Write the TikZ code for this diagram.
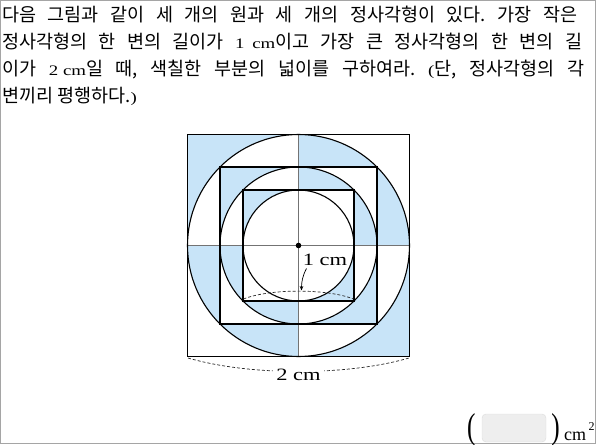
\documentclass[tikz,border=0pt]{standalone}
\usepackage{fontspec}
\usepackage{graphicx}
\setmainfont{Liberation Serif}
\newfontfamily\kr{Noto Sans CJK KR}
\newfontfamily\wid[FakeStretch=1.3]{Liberation Serif}
\usetikzlibrary{arrows.meta}
\definecolor{shadeblue}{RGB}{200,228,248}
\definecolor{axisgray}{RGB}{115,115,115}
\definecolor{framegray}{RGB}{165,165,165}
\definecolor{boxfill}{RGB}{238,238,238}
\definecolor{boxline}{RGB}{220,220,220}
\frenchspacing
\newcommand{\krtext}{\kr\fontsize{18.5}{22}\selectfont}
\newcommand{\lat}[1]{\mbox{\wid\fontsize{14.5}{18}\selectfont #1}}
\tikzset{
  shapeline/.style={draw=black, line width=1.1pt},
  axisline/.style={draw=axisgray, line width=1pt},
  dimline/.style={draw=black!85, line width=0.7pt, dash pattern=on 3pt off 2pt},
  bodyline/.style={anchor=base west, inner sep=0pt},
  figlabel/.style={anchor=base, inner sep=1.5pt, font=\wid\fontsize{17.3}{20}\selectfont},
}
\begin{document}
\begin{tikzpicture}[x=1pt,y=-1pt]
\useasboundingbox (0,0) rectangle (598,445);
\draw[framegray, line width=1pt] (0.5,0.5) rectangle (595.5,443.8);

% problem text
\node[bodyline] (l1) at (2,21) {\makebox[575pt][s]{\krtext 다음 그림과 같이 세 개의 원과 세 개의 정사각형이 있다. 가장 작은}};
\node[bodyline] (l2) at (2,48) {\makebox[580pt][s]{\krtext 정사각형의 한 변의 길이가 \lat{1\hspace{3pt} cm}이고 가장 큰 정사각형의 한 변의 길}};
\node[bodyline] (l3) at (2,75) {\makebox[582pt][s]{\krtext 이가 \lat{2 cm}일 때, 색칠한 부분의 넓이를 구하여라. \lat{(}단, 정사각형의 각}};
\node[bodyline] (l4) at (2,102) {\krtext 변끼리 평행하다.\lat{)}};

% figure
\coordinate (C) at (298.5,245.5);
\begin{scope}
  \clip (187.5,134.5) rectangle (298.5,245.5) (298.5,245.5) rectangle (409.5,356.5);
  \fill[shadeblue, even odd rule] (187.5,134.5) rectangle (409.5,356.5)
    (C) circle (111pt) (220,167) rectangle (377,324)
    (C) circle (78.5pt) (243,190) rectangle (354,301) (C) circle (55.5pt);
\end{scope}
\begin{scope}
  \clip (298.5,134.5) rectangle (409.5,245.5) (187.5,245.5) rectangle (298.5,356.5);
  \fill[shadeblue, even odd rule]
    (C) circle (111pt) (220,167) rectangle (377,324)
    (C) circle (78.5pt) (243,190) rectangle (354,301);
\end{scope}

\coordinate (W) at (187.5,245.5);
\coordinate (E) at (409.5,245.5);
\coordinate (N) at (298.5,134.5);
\coordinate (S) at (298.5,356.5);
\draw[axisline] (W) -- (E);
\draw[axisline] (N) -- (S);

\draw[shapeline] (187.5,134.5) rectangle (409.5,356.5);
\draw[shapeline] (220,167) rectangle (377,324);
\draw[shapeline] (243,190) rectangle (354,301);
\draw[shapeline] (C) circle (111pt);
\draw[shapeline] (C) circle (78.5pt);
\draw[shapeline] (C) circle (55.5pt);
\fill[black] (C) circle (2.8pt);

% 1 cm marker
\coordinate (sL) at (243.5,299);
\coordinate (sR) at (353.5,299);
\draw[dimline] (sL) .. controls (270,288.5) and (327,288.5) .. (sR);
\node[figlabel] (one) at (325,265.5) {1 cm};
\coordinate (aS) at (306.5,268.5);
\coordinate (tip) at (301.5,290.5);
\draw[black, line width=0.7pt, -{Stealth[length=4.5pt,width=3.6pt]}] (aS) .. controls (302.5,276) and (301.5,282) .. (tip);

% 2 cm marker
\coordinate (bL) at (188,358);
\coordinate (bR) at (409,358);
\draw[dimline] (bL) .. controls (250,376) and (347,376) .. (bR);
\node[figlabel, fill=white, inner sep=3pt] (two) at (298.5,380) {2 cm};

% answer area
\node[draw=boxline, fill=boxfill, rounded corners=4pt, minimum width=64pt, minimum height=28pt, inner sep=0pt] (ans) at (514,428) {};
\node[anchor=base west, inner sep=0pt, font=\fontsize{36}{38}\selectfont] (lp) at (467,438.5) {\scalebox{0.7}[1]{(}};
\node[anchor=base east, inner sep=0pt, font=\fontsize{36}{38}\selectfont] (rp) at (560,438.5) {\scalebox{0.7}[1]{)}};
\node[anchor=base west, inner sep=0pt, font=\fontsize{18}{20}\selectfont] (unit) at (564,440) {cm};
\node[anchor=base west, inner sep=0pt, font=\fontsize{12}{14}\selectfont] (sq) at (588.5,430) {2};
\end{tikzpicture}
\end{document}
